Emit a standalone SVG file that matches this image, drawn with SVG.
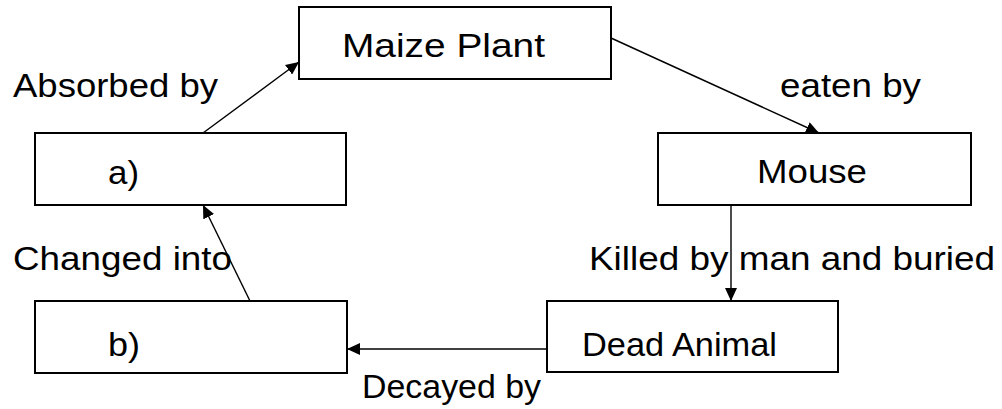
<svg xmlns="http://www.w3.org/2000/svg" width="1002" height="409" viewBox="0 0 1002 409">
  <style>
    .box { fill: #ffffff; stroke: #000000; stroke-width: 2; }
    .lbl { font-family: "Liberation Sans", Arial, sans-serif; font-size: 33px; fill: #000000; }
    .edge { stroke: #000000; stroke-width: 1.4; fill: none; marker-end: url(#arrow); }
  </style>
  <defs>
    <marker id="arrow" markerUnits="userSpaceOnUse" markerWidth="14" markerHeight="12" refX="13" refY="6" orient="auto">
      <path d="M0,0 L13,6 L0,12 z" fill="#000000"/>
    </marker>
  </defs>
  <rect width="1002" height="409" fill="#ffffff"/>

  <g id="connectors">
    <line class="edge" x1="203" y1="133" x2="299" y2="62"/>
    <line class="edge" x1="611" y1="38" x2="819" y2="133"/>
    <line class="edge" x1="731" y1="205" x2="731" y2="301"/>
    <line class="edge" x1="547" y1="349" x2="347" y2="349"/>
    <line class="edge" x1="250" y1="301" x2="203" y2="205"/>
  </g>

  <g id="edge-labels">
    <text class="lbl" x="13" y="97" textLength="205" lengthAdjust="spacingAndGlyphs">Absorbed by</text>
    <text class="lbl" x="780" y="97" textLength="141" lengthAdjust="spacingAndGlyphs">eaten by</text>
    <text class="lbl" x="13" y="270" textLength="219" lengthAdjust="spacingAndGlyphs">Changed into</text>
    <text class="lbl" x="589" y="270" textLength="406" lengthAdjust="spacingAndGlyphs">Killed by man and buried</text>
    <text class="lbl" x="362" y="398" textLength="179" lengthAdjust="spacingAndGlyphs">Decayed by</text>
  </g>

  <g id="maize-plant">
    <rect class="box" x="299" y="7" width="312" height="72"/>
    <text class="lbl" x="342" y="57" textLength="203" lengthAdjust="spacingAndGlyphs">Maize Plant</text>
  </g>

  <g id="mouse">
    <rect class="box" x="658" y="133" width="313" height="72"/>
    <text class="lbl" x="757" y="183" textLength="110" lengthAdjust="spacingAndGlyphs">Mouse</text>
  </g>

  <g id="dead-animal">
    <rect class="box" x="547" y="301" width="291" height="71"/>
    <text class="lbl" x="582" y="356" textLength="195" lengthAdjust="spacingAndGlyphs">Dead Animal</text>
  </g>

  <g id="node-a">
    <rect class="box" x="35" y="133" width="311" height="72"/>
    <text class="lbl" x="108" y="184" textLength="31" lengthAdjust="spacingAndGlyphs">a)</text>
  </g>

  <g id="node-b">
    <rect class="box" x="35" y="301" width="312" height="72"/>
    <text class="lbl" x="108" y="356" textLength="32" lengthAdjust="spacingAndGlyphs">b)</text>
  </g>
</svg>
